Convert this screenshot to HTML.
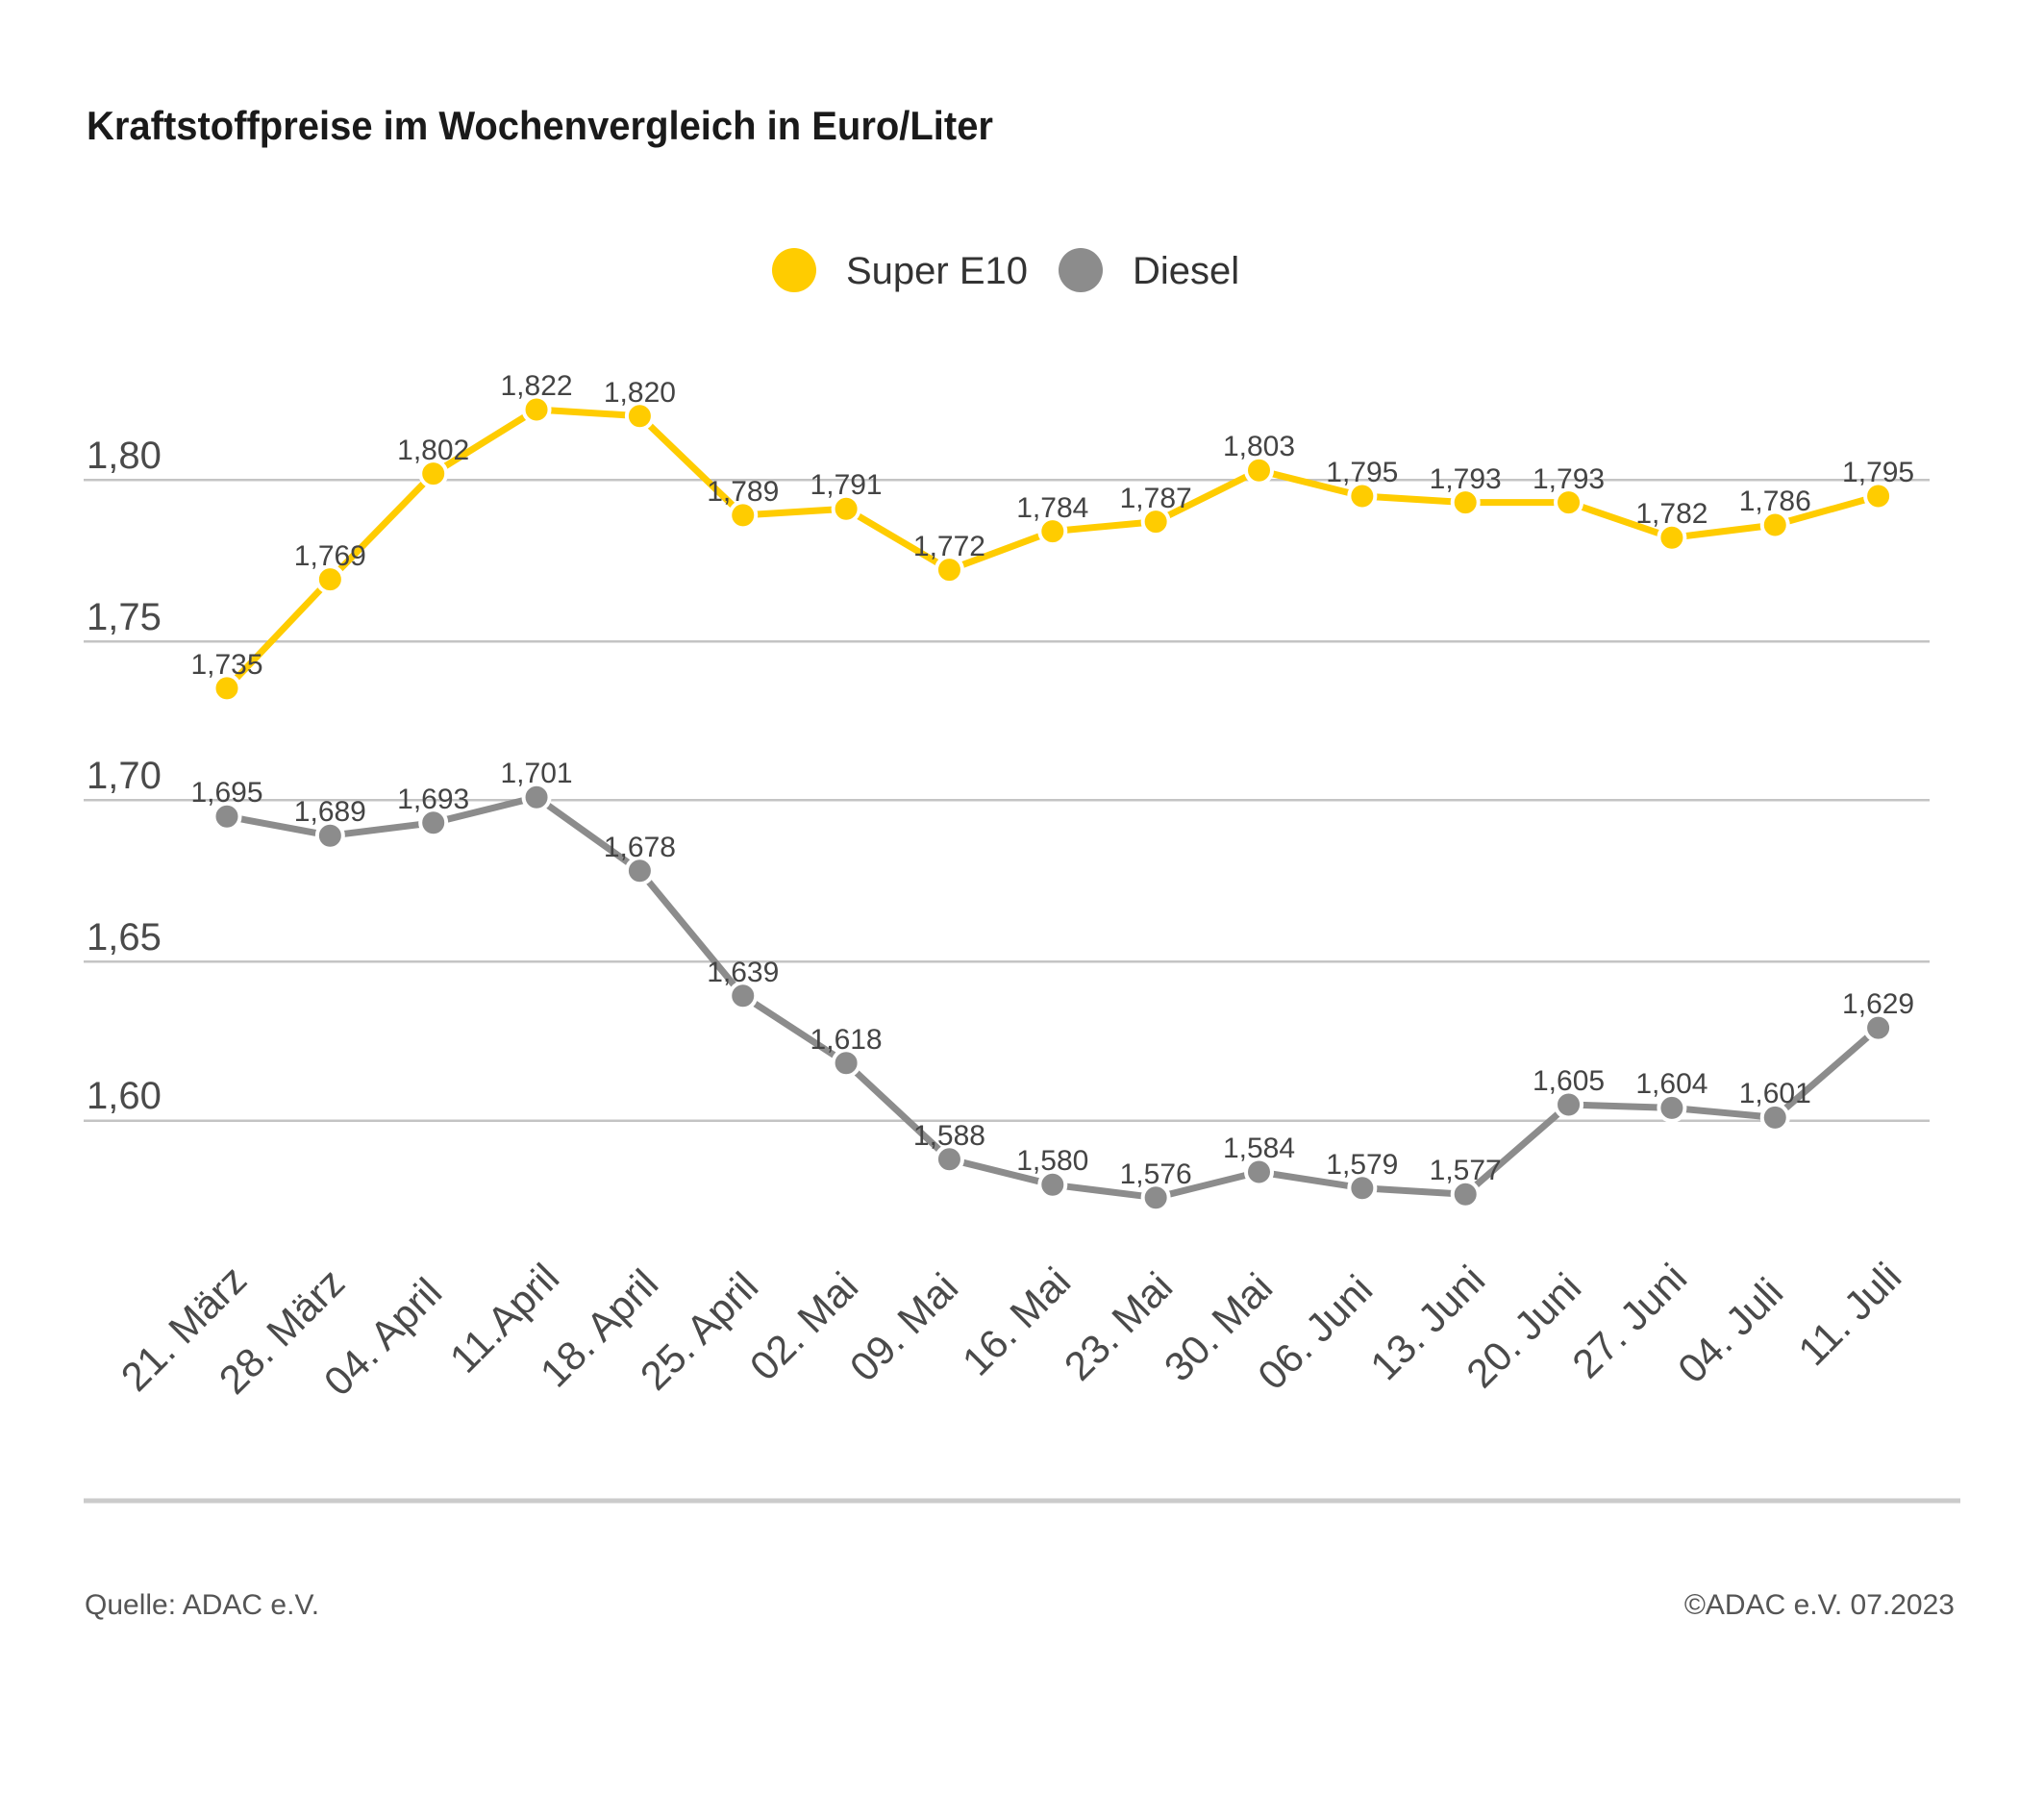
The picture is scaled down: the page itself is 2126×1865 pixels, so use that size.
<!DOCTYPE html>
<html>
<head>
<meta charset="utf-8">
<style>
  html, body { margin:0; padding:0; background:#ffffff; }
  svg { display:block; }
  text { font-family: "Liberation Sans", "DejaVu Sans", sans-serif; }
</style>
</head>
<body>
<svg width="2126" height="1865" viewBox="0 0 2126 1865" xmlns="http://www.w3.org/2000/svg">
  <rect x="0" y="0" width="2126" height="1865" fill="#ffffff"/>

  <!-- Title -->
  <text x="90" y="145" font-size="42" font-weight="bold" fill="#1a1a1a" textLength="943" lengthAdjust="spacingAndGlyphs">Kraftstoffpreise im Wochenvergleich in Euro/Liter</text>

  <!-- Legend -->
  <circle cx="826" cy="281" r="23" fill="#ffcc00"/>
  <text x="880" y="295" font-size="40" fill="#333333">Super E10</text>
  <circle cx="1124" cy="281" r="23" fill="#8c8c8c"/>
  <text x="1178" y="295" font-size="40" fill="#333333">Diesel</text>

  <!-- Gridlines -->
  <g stroke="#c4c4c4" stroke-width="2.5">
    <line x1="87" y1="499.3" x2="2007" y2="499.3"/>
    <line x1="87" y1="667.3" x2="2007" y2="667.3"/>
    <line x1="87" y1="832.3" x2="2007" y2="832.3"/>
    <line x1="87" y1="1000.3" x2="2007" y2="1000.3"/>
    <line x1="87" y1="1165.7" x2="2007" y2="1165.7"/>
  </g>

  <!-- Y labels -->
  <g font-size="40" fill="#4a4a4a">
    <text x="90" y="487">1,80</text>
    <text x="90" y="655">1,75</text>
    <text x="90" y="820">1,70</text>
    <text x="90" y="988">1,65</text>
    <text x="90" y="1153">1,60</text>
  </g>

  <!-- Super E10 line -->
  <polyline fill="none" stroke="#ffcc00" stroke-width="7" stroke-linejoin="round"
    points="236,715.9 343.35,602.6 450.7,492.6 558.05,426.0 665.4,432.7 772.75,535.9 880.1,529.3 987.45,592.6 1094.8,552.6 1202.15,542.6 1309.5,489.3 1416.85,516.0 1524.2,522.6 1631.55,522.6 1738.9,559.3 1846.25,546.0 1953.6,516.0"/>

  <!-- Diesel line -->
  <polyline fill="none" stroke="#8c8c8c" stroke-width="7" stroke-linejoin="round"
    points="236,849.2 343.35,869.2 450.7,855.8 558.05,829.2 665.4,905.8 772.75,1035.8 880.1,1105.7 987.45,1205.7 1094.8,1232.3 1202.15,1245.7 1309.5,1219.0 1416.85,1235.7 1524.2,1242.3 1631.55,1149.0 1738.9,1152.4 1846.25,1162.4 1953.6,1069.1"/>

  <!-- Super E10 markers -->
  <g fill="#ffcc00" stroke="#ffffff" stroke-width="4">
    <circle cx="236" cy="715.9" r="13.5"/>
    <circle cx="343.35" cy="602.6" r="13.5"/>
    <circle cx="450.7" cy="492.6" r="13.5"/>
    <circle cx="558.05" cy="426.0" r="13.5"/>
    <circle cx="665.4" cy="432.7" r="13.5"/>
    <circle cx="772.75" cy="535.9" r="13.5"/>
    <circle cx="880.1" cy="529.3" r="13.5"/>
    <circle cx="987.45" cy="592.6" r="13.5"/>
    <circle cx="1094.8" cy="552.6" r="13.5"/>
    <circle cx="1202.15" cy="542.6" r="13.5"/>
    <circle cx="1309.5" cy="489.3" r="13.5"/>
    <circle cx="1416.85" cy="516.0" r="13.5"/>
    <circle cx="1524.2" cy="522.6" r="13.5"/>
    <circle cx="1631.55" cy="522.6" r="13.5"/>
    <circle cx="1738.9" cy="559.3" r="13.5"/>
    <circle cx="1846.25" cy="546.0" r="13.5"/>
    <circle cx="1953.6" cy="516.0" r="13.5"/>
  </g>

  <!-- Diesel markers -->
  <g fill="#8c8c8c" stroke="#ffffff" stroke-width="4">
    <circle cx="236" cy="849.2" r="13.5"/>
    <circle cx="343.35" cy="869.2" r="13.5"/>
    <circle cx="450.7" cy="855.8" r="13.5"/>
    <circle cx="558.05" cy="829.2" r="13.5"/>
    <circle cx="665.4" cy="905.8" r="13.5"/>
    <circle cx="772.75" cy="1035.8" r="13.5"/>
    <circle cx="880.1" cy="1105.7" r="13.5"/>
    <circle cx="987.45" cy="1205.7" r="13.5"/>
    <circle cx="1094.8" cy="1232.3" r="13.5"/>
    <circle cx="1202.15" cy="1245.7" r="13.5"/>
    <circle cx="1309.5" cy="1219.0" r="13.5"/>
    <circle cx="1416.85" cy="1235.7" r="13.5"/>
    <circle cx="1524.2" cy="1242.3" r="13.5"/>
    <circle cx="1631.55" cy="1149.0" r="13.5"/>
    <circle cx="1738.9" cy="1152.4" r="13.5"/>
    <circle cx="1846.25" cy="1162.4" r="13.5"/>
    <circle cx="1953.6" cy="1069.1" r="13.5"/>
  </g>

  <!-- Super E10 value labels -->
  <g font-size="30" fill="#444444" text-anchor="middle">
    <text x="236" y="701">1,735</text>
    <text x="343.35" y="588">1,769</text>
    <text x="450.7" y="478">1,802</text>
    <text x="558.05" y="411">1,822</text>
    <text x="665.4" y="418">1,820</text>
    <text x="772.75" y="521">1,789</text>
    <text x="880.1" y="514">1,791</text>
    <text x="987.45" y="578">1,772</text>
    <text x="1094.8" y="538">1,784</text>
    <text x="1202.15" y="528">1,787</text>
    <text x="1309.5" y="474">1,803</text>
    <text x="1416.85" y="501">1,795</text>
    <text x="1524.2" y="508">1,793</text>
    <text x="1631.55" y="508">1,793</text>
    <text x="1738.9" y="544">1,782</text>
    <text x="1846.25" y="531">1,786</text>
    <text x="1953.6" y="501">1,795</text>
  </g>

  <!-- Diesel value labels -->
  <g font-size="30" fill="#444444" text-anchor="middle">
    <text x="236" y="834">1,695</text>
    <text x="343.35" y="854">1,689</text>
    <text x="450.7" y="841">1,693</text>
    <text x="558.05" y="814">1,701</text>
    <text x="665.4" y="891">1,678</text>
    <text x="772.75" y="1021">1,639</text>
    <text x="880.1" y="1091">1,618</text>
    <text x="987.45" y="1191">1,588</text>
    <text x="1094.8" y="1217">1,580</text>
    <text x="1202.15" y="1231">1,576</text>
    <text x="1309.5" y="1204">1,584</text>
    <text x="1416.85" y="1221">1,579</text>
    <text x="1524.2" y="1227">1,577</text>
    <text x="1631.55" y="1134">1,605</text>
    <text x="1738.9" y="1137">1,604</text>
    <text x="1846.25" y="1147">1,601</text>
    <text x="1953.6" y="1054">1,629</text>
  </g>

  <!-- X axis labels (rotated) -->
  <g font-size="42" fill="#4a4a4a" text-anchor="end">
    <text transform="translate(259,1334) rotate(-45)">21. März</text>
    <text transform="translate(361,1337) rotate(-45)">28. März</text>
    <text transform="translate(462,1347) rotate(-45)">04. April</text>
    <text transform="translate(584,1332) rotate(-45)">11.April</text>
    <text transform="translate(687,1338) rotate(-45)">18. April</text>
    <text transform="translate(791,1341) rotate(-45)">25. April</text>
    <text transform="translate(895,1341) rotate(-45)">02. Mai</text>
    <text transform="translate(999,1342) rotate(-45)">09. Mai</text>
    <text transform="translate(1116,1336) rotate(-45)">16. Mai</text>
    <text transform="translate(1222,1341) rotate(-45)">23. Mai</text>
    <text transform="translate(1326,1342) rotate(-45)">30. Mai</text>
    <text transform="translate(1430,1344) rotate(-45)">06. Juni</text>
    <text transform="translate(1547,1334) rotate(-45)">13. Juni</text>
    <text transform="translate(1647,1342) rotate(-45)">20. Juni</text>
    <text transform="translate(1757,1332) rotate(-45)">27. Juni</text>
    <text transform="translate(1857,1347) rotate(-45)">04. Juli</text>
    <text transform="translate(1980,1331) rotate(-45)">11. Juli</text>
  </g>

  <!-- Bottom rule -->
  <line x1="87" y1="1561" x2="2039" y2="1561" stroke="#cbcbcb" stroke-width="5"/>

  <!-- Footer -->
  <text x="88" y="1679" font-size="30" fill="#555555">Quelle: ADAC e.V.</text>
  <text x="2033" y="1679" font-size="30" fill="#555555" text-anchor="end">©ADAC e.V. 07.2023</text>
</svg>
</body>
</html>
